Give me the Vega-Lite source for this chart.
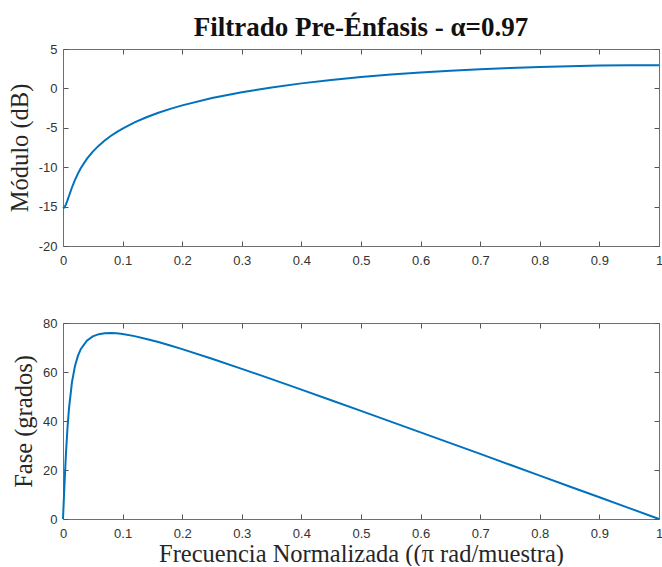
{
  "$schema": "https://vega.github.io/schema/vega-lite/v6.json",
  "autosize": "pad",
  "padding": {"left": 7, "top": 14, "right": 0, "bottom": 0},
  "background": "white",
  "bounds": "flush",
  "spacing": 77,
  "data": {
    "values": [
      {"f": 0, "mag": -15.229, "fase": 0},
      {"f": 0.0025, "mag": -15.089, "fase": 14.24},
      {"f": 0.005, "mag": -14.717, "fase": 26.82},
      {"f": 0.0075, "mag": -14.21, "fase": 37.04},
      {"f": 0.01, "mag": -13.656, "fase": 44.99},
      {"f": 0.015, "mag": -12.576, "fase": 55.77},
      {"f": 0.02, "mag": -11.627, "fase": 62.35},
      {"f": 0.025, "mag": -10.812, "fase": 66.56},
      {"f": 0.03, "mag": -10.109, "fase": 69.4},
      {"f": 0.04, "mag": -8.953, "fase": 72.79},
      {"f": 0.05, "mag": -8.029, "fase": 74.55},
      {"f": 0.06, "mag": -7.263, "fase": 75.45},
      {"f": 0.07, "mag": -6.611, "fase": 75.85},
      {"f": 0.08, "mag": -6.043, "fase": 75.93},
      {"f": 0.09, "mag": -5.541, "fase": 75.79},
      {"f": 0.1, "mag": -5.092, "fase": 75.51},
      {"f": 0.12, "mag": -4.314, "fase": 74.64},
      {"f": 0.14, "mag": -3.658, "fase": 73.5},
      {"f": 0.16, "mag": -3.091, "fase": 72.21},
      {"f": 0.18, "mag": -2.593, "fase": 70.8},
      {"f": 0.2, "mag": -2.151, "fase": 69.32},
      {"f": 0.25, "mag": -1.224, "fase": 65.4},
      {"f": 0.3, "mag": -0.483, "fase": 61.29},
      {"f": 0.35, "mag": 0.127, "fase": 57.08},
      {"f": 0.4, "mag": 0.638, "fase": 52.8},
      {"f": 0.45, "mag": 1.071, "fase": 48.48},
      {"f": 0.5, "mag": 1.44, "fase": 44.13},
      {"f": 0.55, "mag": 1.756, "fase": 39.75},
      {"f": 0.6, "mag": 2.025, "fase": 35.37},
      {"f": 0.65, "mag": 2.253, "fase": 30.97},
      {"f": 0.7, "mag": 2.444, "fase": 26.56},
      {"f": 0.75, "mag": 2.601, "fase": 22.14},
      {"f": 0.8, "mag": 2.727, "fase": 17.72},
      {"f": 0.85, "mag": 2.823, "fase": 13.29},
      {"f": 0.9, "mag": 2.891, "fase": 8.86},
      {"f": 0.95, "mag": 2.931, "fase": 4.43},
      {"f": 1, "mag": 2.945, "fase": 0}
    ]
  },
  "vconcat": [
    {
      "width": 596,
      "height": 197,
      "title": {
        "text": "Filtrado Pre-Énfasis - α=0.97",
        "font": "Liberation Serif",
        "fontSize": 27,
        "fontWeight": "bold",
        "color": "#111111",
        "anchor": "middle",
        "baseline": "alphabetic",
        "offset": -20
      },
      "layer": [
        {
          "mark": {"type": "line", "color": "#0072BD", "strokeWidth": 2},
          "encoding": {
            "x": {"field": "f", "type": "quantitative", "scale": {"domain": [0, 1], "nice": false},
              "axis": {"orient": "bottom", "title": null, "values": [0, 0.1, 0.2, 0.3, 0.4, 0.5, 0.6, 0.7, 0.8, 0.9, 1], "labelExpr": "'' + datum.value", "labelPadding": 13}},
            "y": {"field": "mag", "type": "quantitative", "scale": {"domain": [-20, 5], "nice": false, "zero": false},
              "axis": {"orient": "left", "title": "Módulo (dB)", "values": [-20, -15, -10, -5, 0, 5], "labelExpr": "'' + datum.value", "labelPadding": 11, "titlePadding": 6}}
          }
        },
        {
          "mark": {"type": "line", "opacity": 0},
          "encoding": {
            "x": {"field": "f", "type": "quantitative", "scale": {"domain": [0, 1], "nice": false},
              "axis": {"orient": "top", "title": null, "labels": false, "values": [0, 0.1, 0.2, 0.3, 0.4, 0.5, 0.6, 0.7, 0.8, 0.9, 1]}},
            "y": {"field": "mag", "type": "quantitative", "scale": {"domain": [-20, 5], "nice": false, "zero": false},
              "axis": {"orient": "right", "title": null, "labels": false, "values": [-20, -15, -10, -5, 0, 5]}}
          }
        }
      ],
      "resolve": {"axis": {"x": "independent", "y": "independent"}}
    },
    {
      "width": 596,
      "height": 196,
      "layer": [
        {
          "mark": {"type": "line", "color": "#0072BD", "strokeWidth": 2},
          "encoding": {
            "x": {"field": "f", "type": "quantitative", "scale": {"domain": [0, 1], "nice": false},
              "axis": {"orient": "bottom", "title": "Frecuencia Normalizada ((π rad/muestra)", "values": [0, 0.1, 0.2, 0.3, 0.4, 0.5, 0.6, 0.7, 0.8, 0.9, 1], "labelExpr": "'' + datum.value", "labelPadding": 13, "titlePadding": 2}},
            "y": {"field": "fase", "type": "quantitative", "scale": {"domain": [0, 80], "nice": false},
              "axis": {"orient": "left", "title": "Fase (grados)", "values": [0, 20, 40, 60, 80], "labelExpr": "'' + datum.value", "labelPadding": 11, "titlePadding": 6}}
          }
        },
        {
          "mark": {"type": "line", "opacity": 0},
          "encoding": {
            "x": {"field": "f", "type": "quantitative", "scale": {"domain": [0, 1], "nice": false},
              "axis": {"orient": "top", "title": null, "labels": false, "values": [0, 0.1, 0.2, 0.3, 0.4, 0.5, 0.6, 0.7, 0.8, 0.9, 1]}},
            "y": {"field": "fase", "type": "quantitative", "scale": {"domain": [0, 80], "nice": false},
              "axis": {"orient": "right", "title": null, "labels": false, "values": [0, 20, 40, 60, 80]}}
          }
        }
      ],
      "resolve": {"axis": {"x": "independent", "y": "independent"}}
    }
  ],
  "config": {
    "view": {"stroke": null},
    "axis": {
      "grid": false,
      "domainColor": "#6e6e6e",
      "domainWidth": 1,
      "tickColor": "#555555",
      "tickSize": -5,
      "tickWidth": 1,
      "labelColor": "#333333",
      "labelFont": "Liberation Sans",
      "labelFontSize": 13,
      "labelFlush": false,
      "labelOverlap": false,
      "titleFont": "Liberation Serif",
      "titleFontSize": 24.5,
      "titleFontWeight": "normal",
      "titleColor": "#262626"
    }
  }
}
